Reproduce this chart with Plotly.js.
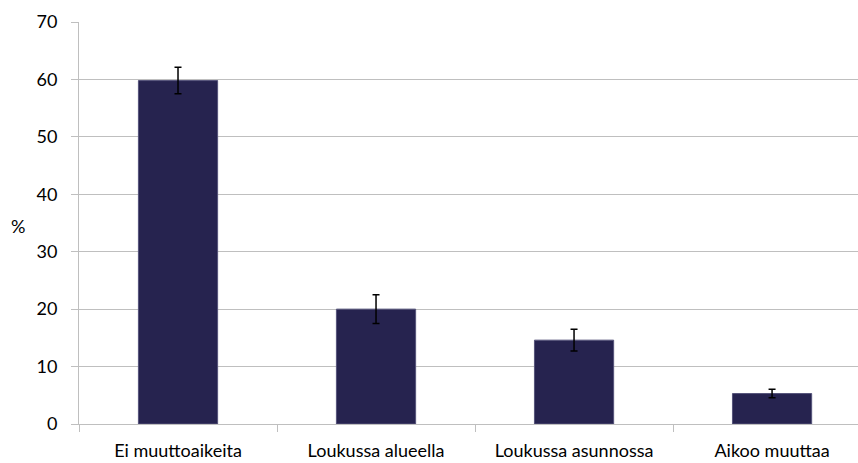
<!DOCTYPE html>
<html>
<head>
<meta charset="utf-8">
<script src="https://cdn.plot.ly/plotly-3.0.1.min.js"></script>
<style>html,body{margin:0;padding:0;background:#fff;}#chart{width:858px;height:463px;}</style>
</head>
<body>
<div id="chart"></div>
<script>
const categories = ["Ei muuttoaikeita", "Loukussa alueella", "Loukussa asunnossa", "Aikoo muuttaa"];
const values = [59.8, 20.0, 14.6, 5.3];
const errors = [2.3, 2.5, 1.9, 0.75];
const yTicks = [0, 10, 20, 30, 40, 50, 60, 70];
const yTitle = "%";

const font = "Lato, 'Open Sans', sans-serif";
Plotly.newPlot("chart", [{
  type: "bar",
  x: categories,
  y: values,
  marker: {color: "#26234f", line: {color: "#55537a", width: 1}},
  error_y: {type: "data", array: errors, visible: true, color: "#000", thickness: 1.5, width: 3.5},
  hoverinfo: "skip"
}], {
  width: 858, height: 463,
  margin: {l: 79, r: 0, t: 22, b: 39},
  paper_bgcolor: "#fff", plot_bgcolor: "#fff",
  bargap: 0.6,
  showlegend: false,
  xaxis: {
    type: "category",
    range: [-0.5, 3.434],
    tickson: "boundaries",
    ticks: "outside", ticklen: 7, tickcolor: "#bfbfbf",
    ticklabelstandoff: 10,
    showgrid: false,
    showline: true, linecolor: "#bfbfbf", linewidth: 1,
    tickfont: {family: font, size: 18, color: "#000"},
    fixedrange: true
  },
  yaxis: {
    range: [0, 70],
    tickvals: yTicks,
    ticktext: yTicks.map(String),
    ticks: "outside", ticklen: 7, tickcolor: "#bfbfbf",
    ticklabelstandoff: 10,
    showgrid: true, gridcolor: "#bfbfbf", gridwidth: 1,
    showline: true, linecolor: "#bfbfbf", linewidth: 1,
    zeroline: false,
    tickfont: {family: font, size: 18, color: "#000"},
    fixedrange: true
  },
  annotations: [{
    text: yTitle, xref: "paper", yref: "paper",
    x: -79/779 + 18/779, y: (424-226)/402, xanchor: "center", yanchor: "middle",
    showarrow: false, font: {family: font, size: 18, color: "#000"}
  }]
}, {staticPlot: true});
</script>
</body>
</html>
